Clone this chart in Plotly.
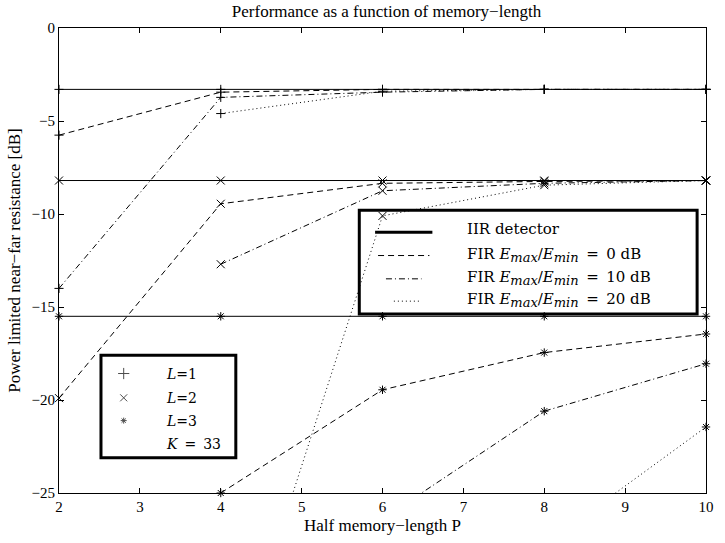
import plotly.graph_objects as go

# ---------------- data ----------------
P = [2, 4, 6, 8, 10]

iir_L1 = [-3.3, -3.3, -3.3, -3.3, -3.3]
iir_L2 = [-8.2, -8.2, -8.2, -8.2, -8.2]
iir_L3 = [-15.5, -15.5, -15.5, -15.5, -15.5]

fir0_L1 = [-5.76, -3.45, -3.3, -3.3, -3.3]
fir0_L2 = [-19.9, -9.45, -8.35, -8.25, -8.2]
fir0_L3 = [None, -25.0, -19.45, -17.45, -16.45]

fir10_L1 = [-14.0, -3.73, -3.45, -3.3, -3.3]
fir10_L2 = [None, -12.7, -8.75, -8.35, -8.2]
fir10_L3 = [None, None, -26.4, -20.6, -18.05]

fir20_L1 = [None, -4.6, -3.4, -3.3, -3.3]
fir20_L2 = [None, -37.0, -10.1, -8.45, -8.2]
fir20_L3 = [None, None, None, -27.8, -21.45]

SUBSTYLE = "font-size:13px"
EFRAC = ("<i>E</i><sub><span style='%s'><i>max</i></span></sub>/"
         "<i>E</i><sub><span style='%s'><i>min</i></span></sub>") % (SUBSTYLE, SUBSTYLE)
SP = "\u2002"
line_labels = [
    "IIR detector",
    "FIR " + EFRAC + SP + "=" + SP + "0 dB",
    "FIR " + EFRAC + SP + "=" + SP + "10 dB",
    "FIR " + EFRAC + SP + "=" + SP + "20 dB",
]
marker_labels = ["<i>L</i>=1", "<i>L</i>=2", "<i>L</i>=3", "<i>K</i>" + SP + "=" + SP + "33"]

title_text = "Performance as a function of memory\u2212length"
xlabel = "Half memory\u2212length P"
ylabel = "Power limited near\u2212far resistance [dB]"

# ---------------- styles ----------------
W, H = 725, 543
ML, MR, MT, MB = 59, 11, 28, 46
PW, PH = W - ML - MR, H - MT - MB


def fx(px):
    return (px - ML) / PW


def fy(py):
    return (H - MB - py) / PH


dashes = ["solid", "6px,4px", "6px,3px,1px,3px", "1px,3px"]
symbols = ["cross-thin", "x-thin", "asterisk"]
sizes = [6.5, 8, 7]
SERIF = "Liberation Serif"
LEGFONT = "DejaVu Serif"

groups = [
    [iir_L1, iir_L2, iir_L3],
    [fir0_L1, fir0_L2, fir0_L3],
    [fir10_L1, fir10_L2, fir10_L3],
    [fir20_L1, fir20_L2, fir20_L3],
]

fig = go.Figure()
for gi, series in enumerate(groups):
    for li, ys in enumerate(series):
        fig.add_trace(go.Scatter(
            x=P, y=ys, mode="lines+markers",
            line=dict(color="black", width=1, dash=dashes[gi]),
            marker=dict(symbol=symbols[li], size=sizes[li], color="black",
                        line=dict(color="black", width=1)),
            cliponaxis=False, showlegend=False, connectgaps=False,
        ))

# ---------------- legend 1 (line styles) ----------------
shapes = []
annotations = []
shapes.append(dict(type="rect", xref="paper", yref="paper",
                   x0=fx(363), x1=fx(705), y0=fy(316.5), y1=fy(211.7),
                   line=dict(color="black", width=3), fillcolor="rgba(0,0,0,0)",
                   layer="above"))
row_y1 = [231, 256.5, 280, 302.5]
sample_x = [(379, 437), (382, 434), (390, 426), (398, 426)]
for i, lab in enumerate(line_labels):
    off = 3 if i == 0 else 1
    shapes.append(dict(type="line", xref="paper", yref="paper",
                       x0=fx(sample_x[i][0]), x1=fx(sample_x[i][1]),
                       y0=fy(row_y1[i] + off), y1=fy(row_y1[i] + off),
                       line=dict(color="black", width=3 if i == 0 else 1,
                                 dash=dashes[i]), layer="above"))
    annotations.append(dict(xref="paper", yref="paper", x=fx(470), y=fy(row_y1[i]),
                            xanchor="left", yanchor="middle", showarrow=False,
                            text=lab, font=dict(family=LEGFONT, size=15, color="black")))

# ---------------- legend 2 (markers) ----------------
shapes.append(dict(type="rect", xref="paper", yref="paper",
                   x0=fx(101.5), x1=fx(238), y0=fy(461.5), y1=fy(358),
                   line=dict(color="black", width=3), fillcolor="rgba(0,0,0,0)",
                   layer="above"))
row_y2 = [376.5, 401, 424, 447.5]
for i, lab in enumerate(marker_labels):
    annotations.append(dict(xref="paper", yref="paper", x=fx(165), y=fy(row_y2[i]),
                            xanchor="left", yanchor="middle", showarrow=False,
                            text=lab, font=dict(family=LEGFONT, size=14, color="black")))
fig.add_trace(go.Scatter(
    x=[fx(124.5)] * 3, y=[fy(v) for v in row_y2[:3]],
    xaxis="x2", yaxis="y2", mode="markers",
    marker=dict(symbol=symbols, size=[8, 7, 5], color="black",
                line=dict(color="black", width=1)),
    showlegend=False, hoverinfo="skip",
))

fig.update_layout(
    width=W, height=H,
    margin=dict(l=ML, r=MR, t=MT, b=MB),
    paper_bgcolor="white", plot_bgcolor="white",
    showlegend=False,
    title=dict(text=title_text, x=(ML + PW / 2) / W, xanchor="center",
               y=1 - 11 / H, yanchor="middle", yref="container",
               font=dict(family=SERIF, size=17, color="black")),
    xaxis=dict(range=[2, 10], tickvals=[2, 3, 4, 5, 6, 7, 8, 9, 10],
               ticks="inside", ticklen=5, tickcolor="black",
               showline=True, linecolor="black", linewidth=1, mirror="ticks",
               showgrid=False, zeroline=False,
               tickfont=dict(family=SERIF, size=15, color="black"),
               title=dict(text=xlabel, standoff=5,
                          font=dict(family=SERIF, size=17, color="black"))),
    yaxis=dict(range=[-25, 0], tickvals=[-25, -20, -15, -10, -5, 0],
               ticks="inside", ticklen=5, tickcolor="black",
               showline=True, linecolor="black", linewidth=1, mirror="ticks",
               showgrid=False, zeroline=False,
               tickfont=dict(family=SERIF, size=15, color="black"),
               title=dict(text=ylabel, standoff=6,
                          font=dict(family=SERIF, size=17, color="black"))),
    xaxis2=dict(range=[0, 1], overlaying="x", visible=False, fixedrange=True),
    yaxis2=dict(range=[0, 1], overlaying="y", visible=False, fixedrange=True),
    shapes=shapes,
    annotations=annotations,
)

fig.write_html("out.html")
